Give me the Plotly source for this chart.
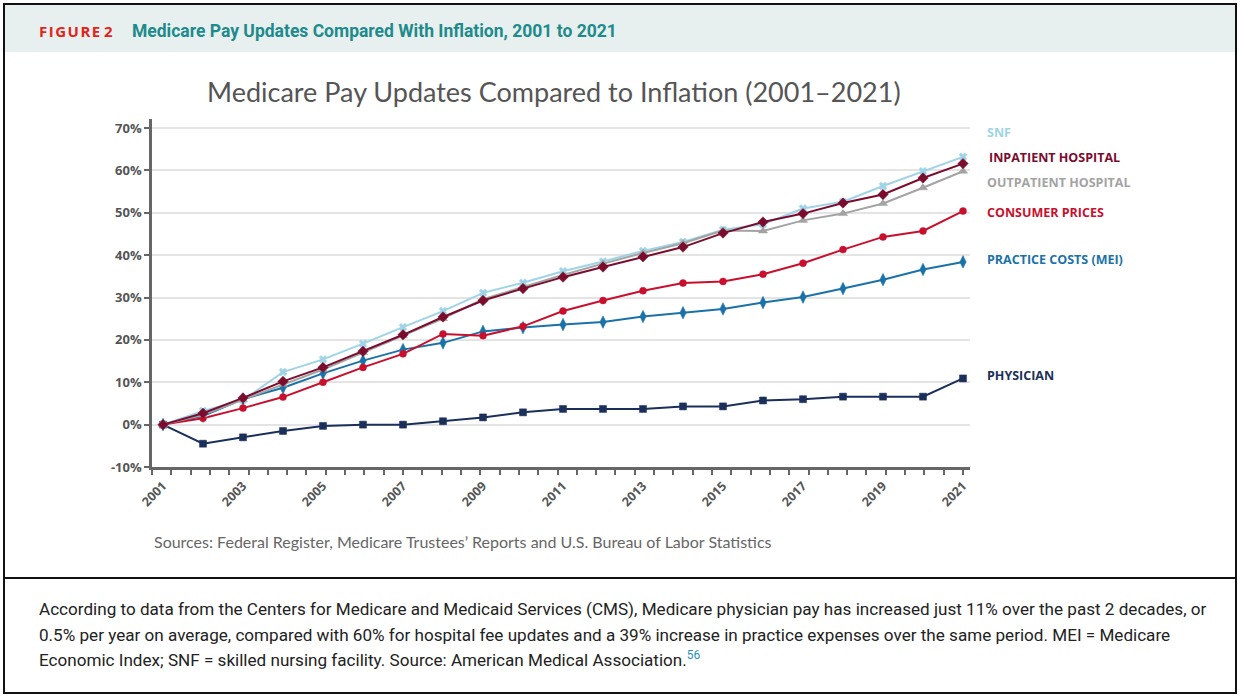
import plotly.graph_objects as go

years = list(range(2001, 2022))
snf = [0, 3.2, 5.8, 12.4, 15.4, 19.1, 23.0, 26.8, 31.1, 33.5, 36.2, 38.5, 41.0, 43.1, 46.0, 47.3, 51.0, 52.6, 56.3, 59.8, 63.2]
inpatient = [0, 2.7, 6.3, 10.2, 13.5, 17.3, 21.2, 25.4, 29.3, 32.1, 34.8, 37.2, 39.6, 41.9, 45.2, 47.8, 49.8, 52.3, 54.3, 58.2, 61.6]
outpatient = [0, 2.3, 5.9, 9.5, 13.0, 17.0, 21.0, 25.0, 29.6, 32.5, 35.3, 38.0, 40.5, 42.8, 45.8, 45.7, 48.2, 49.8, 52.2, 55.9, 59.8]
consumer = [0, 1.5, 3.9, 6.5, 10.0, 13.5, 16.7, 21.4, 21.0, 23.2, 26.8, 29.3, 31.6, 33.4, 33.8, 35.5, 38.1, 41.3, 44.3, 45.7, 50.4]
mei = [0, 2.0, 6.0, 8.7, 12.1, 15.1, 17.7, 19.3, 22.0, 22.9, 23.6, 24.2, 25.5, 26.4, 27.3, 28.8, 30.1, 32.1, 34.2, 36.6, 38.4]
physician = [0, -4.5, -3.0, -1.5, -0.3, 0, 0, 0.8, 1.7, 2.9, 3.7, 3.7, 3.7, 4.3, 4.3, 5.7, 6.0, 6.6, 6.6, 6.6, 10.9]

y_ticks = [-10, 0, 10, 20, 30, 40, 50, 60, 70]
y_ticktext = ["-10%", "0%", "10%", "20%", "30%", "40%", "50%", "60%", "70%"]
x_tickvals = list(range(2001, 2022, 2))
x_ticktext = [str(v) for v in x_tickvals]

series = [
    ("PHYSICIAN", physician, "#1b2f5b", "square", 7),
    ("PRACTICE COSTS (MEI)", mei, "#1a72a8", "diamond-tall", 9),
    ("CONSUMER PRICES", consumer, "#c8102e", "circle", 7),
    ("SNF", snf, "#9fd4e8", "x", 7),
    ("OUTPATIENT HOSPITAL", outpatient, "#a3a3a3", "triangle-up", 8),
    ("INPATIENT HOSPITAL", inpatient, "#7a0c2e", "diamond", 8),
]

W, H = 1240, 696
L, R, T, B = 152, 970, 119, 467
pw, ph = R - L, B - T

def px(x):
    return (x - L) / pw

def py(y):
    return (B - y) / ph

fig = go.Figure()
for name, vals, col, sym, sz in series:
    fig.add_trace(go.Scatter(
        x=years, y=vals, mode="lines+markers", name=name,
        line=dict(color=col, width=2),
        marker=dict(symbol=sym, size=sz, color=col, line=dict(width=0.5, color=col)),
        showlegend=False, hoverinfo="x+y+name",
    ))

x0 = 2001 - (163 - L) / 40.0
x1 = 2021 + (R - 963) / 40.0

fig.update_layout(
    width=W, height=H,
    margin=dict(l=L, r=W - R, t=T, b=H - B, pad=0),
    paper_bgcolor="white", plot_bgcolor="white",
    xaxis=dict(
        range=[x0, x1], tickmode="array", tickvals=x_tickvals, ticktext=x_ticktext,
        tickangle=-45, ticks="", showgrid=False, zeroline=False, ticklabelstandoff=4,
        showline=True, linecolor="#666666", linewidth=2.5,
        tickfont=dict(family="Open Sans", size=12.5, color="#555555", weight=700),
        minor=dict(tickmode="linear", tick0=x0, dtick=(2021 - x0) / 42, ticks="outside",
                   ticklen=5, tickwidth=2, tickcolor="#666666", showgrid=False),
    ),
    yaxis=dict(
        range=[-10, 70 + (128 - T) / 4.2375], tickmode="array", tickvals=y_ticks, ticktext=y_ticktext,
        ticks="outside", ticklen=5, tickwidth=2, tickcolor="#666666",
        showgrid=True, gridcolor="#e4e4e4", gridwidth=1.5, zeroline=False,
        showline=True, linecolor="#666666", linewidth=2.5,
        tickfont=dict(family="Open Sans", size=13, color="#555555", weight=700),
    ),
)

shapes = []
shapes.append(dict(type="rect", xref="paper", yref="paper", x0=px(5), x1=px(1235), y0=py(52), y1=py(5),
                   fillcolor="#e7f0ef", line=dict(width=0), layer="below"))
shapes.append(dict(type="rect", xref="paper", yref="paper", x0=px(4), x1=px(1236), y0=py(693), y1=py(4),
                   line=dict(color="#111111", width=2), fillcolor="rgba(0,0,0,0)"))
shapes.append(dict(type="line", xref="paper", yref="paper", x0=px(4), x1=px(1236), y0=py(578), y1=py(578),
                   line=dict(color="#111111", width=2)))
fig.update_layout(shapes=shapes)

hs = "\u200a"
fig_label = hs.join("FIGURE") + " " + "2"
ann = []
ann.append(dict(text="<b>" + fig_label + "</b>", x=px(37), y=py(31), xref="paper", yref="paper", xanchor="left",
                yanchor="middle", showarrow=False, font=dict(family="Open Sans", size=15, color="#e2231a")))
ann.append(dict(text="<b>Medicare Pay Updates Compared With Inflation, 2001 to 2021</b>", x=px(130), y=py(31),
                xref="paper", yref="paper", xanchor="left", yanchor="middle", showarrow=False,
                font=dict(family="Roboto", size=17.5, color="#1e8a8c")))
ann.append(dict(text="Medicare Pay Updates Compared to Inflation (2001\u20132021)", x=px(554), y=py(92),
                xref="paper", yref="paper", xanchor="center", yanchor="middle", showarrow=False,
                font=dict(family="Lato", size=27, color="#555555")))
ann.append(dict(text="Sources: Federal Register, Medicare Trustees\u2019 Reports and U.S. Bureau of Labor Statistics",
                x=px(152), y=py(541), xref="paper", yref="paper", xanchor="left", yanchor="middle", showarrow=False,
                font=dict(family="Lato", size=16, color="#666666")))

label_pos = {"SNF": 132, "INPATIENT HOSPITAL": 158, "OUTPATIENT HOSPITAL": 182, "CONSUMER PRICES": 212,
             "PRACTICE COSTS (MEI)": 259, "PHYSICIAN": 375}
label_x = {"SNF": 985, "INPATIENT HOSPITAL": 987}
for name, vals, col, sym, sz in series:
    ann.append(dict(text="<b>" + name + "</b>", x=px(label_x.get(name, 985)), y=py(label_pos[name]),
                    xref="paper", yref="paper", xanchor="left", yanchor="middle", showarrow=False,
                    font=dict(family="Open Sans", size=12.5, color=col)))

caption = [
    "According to data from the Centers for Medicare and Medicaid Services (CMS), Medicare physician pay has increased just 11% over the past 2 decades, or",
    "0.5% per year on average, compared with 60% for hospital fee updates and a 39% increase in practice expenses over the same period. MEI = Medicare",
    "Economic Index; SNF = skilled nursing facility. Source: American Medical Association.<sup><span style='color:#2a8fc0'>56</span></sup>",
]
for i, line in enumerate(caption):
    ann.append(dict(text=line, x=px(37), y=py([609, 635, 659][i]), xref="paper", yref="paper",
                    xanchor="left", yanchor="middle", showarrow=False,
                    font=dict(family="Roboto", size=17.1, color="#222222")))
fig.update_layout(annotations=ann)

fig.write_html("out.html", config={"displayModeBar": False},
               post_script="document.body.style.margin='0';document.body.style.padding='0';")
